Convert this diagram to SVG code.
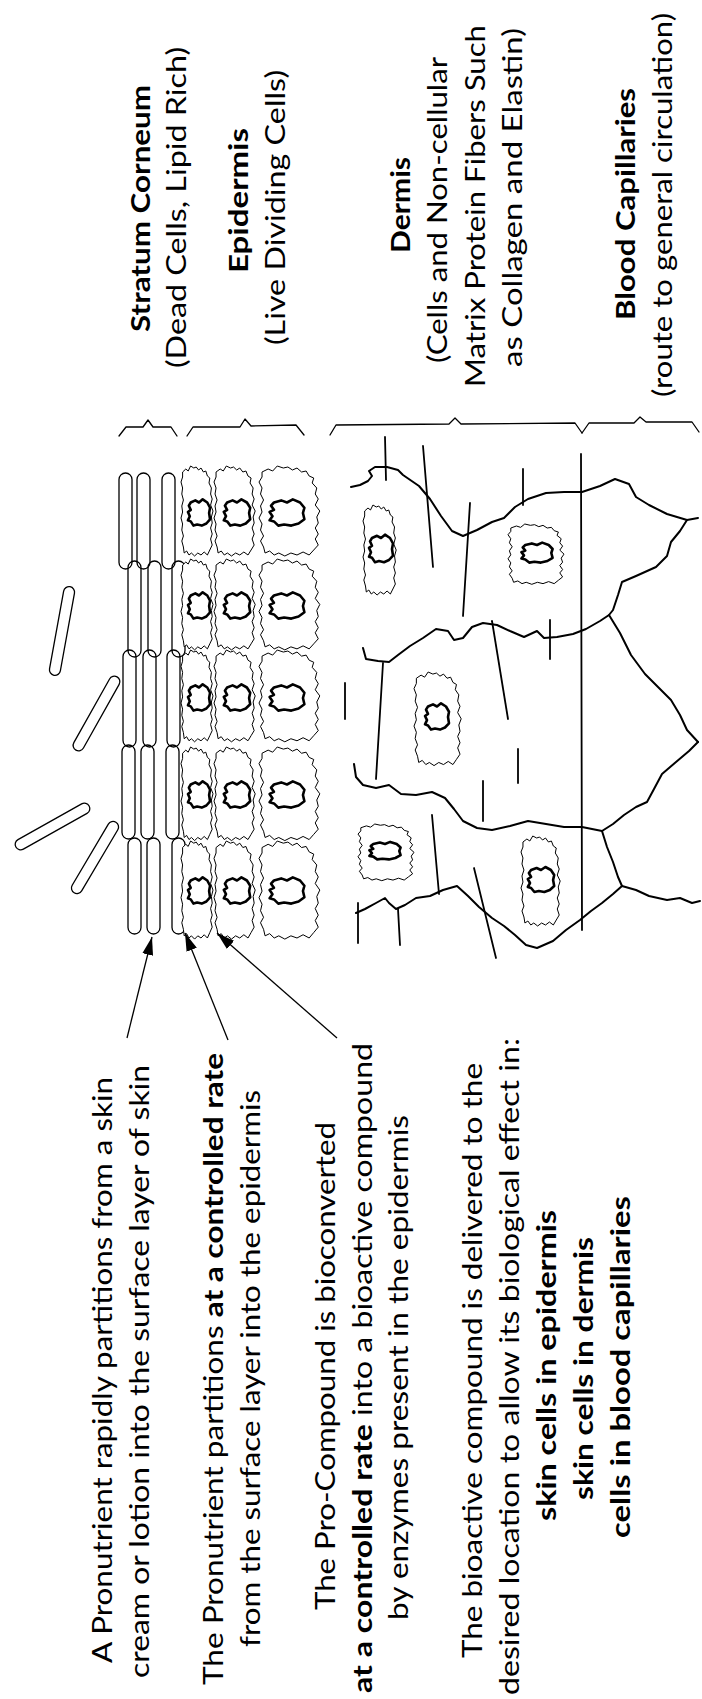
<svg xmlns="http://www.w3.org/2000/svg" xmlns:xlink="http://www.w3.org/1999/xlink" width="702" height="1699" viewBox="0 0 702 1699">
<style>
text{font-family:Lato,"Open Sans","Liberation Sans",sans-serif;font-size:27px;fill:#000}
.b{font-weight:700}
.ln{fill:none;stroke:#000;stroke-width:1.3;stroke-linejoin:round;stroke-linecap:round}
.wall{fill:none;stroke:#000;stroke-width:2;stroke-linejoin:round;stroke-linecap:round}
.fib{fill:none;stroke:#000;stroke-width:1.8;stroke-linecap:round}
.cap{fill:none;stroke:#000;stroke-width:1.3}
.rod{fill:#fff;stroke:#000;stroke-width:1.3}
.arr{fill:none;stroke:#000;stroke-width:1.3}
</style>
<defs>
<path id="cell" fill="#fff" stroke="#000" stroke-width="1" vector-effect="non-scaling-stroke" stroke-linejoin="round" d="M2,6 L6,3 L9,5 L12,0 L16,2 L19,1 L22,4 L25,2 L28,6 L31,5 L33,10 L36,12 L35,17 L38,22 L37,28 L39,33 L37,39 L40,45 L38,51 L39,57 L37,62 L39,68 L37,73 L39,79 L36,84 L33,89 L29,86 L25,89 L21,87 L17,90 L13,87 L10,89 L7,85 L4,87 L3,81 L1,75 L3,70 L1,64 L2,58 L0,52 L2,46 L1,40 L3,34 L1,28 L2,22 L0,16 L2,11 Z"/>
<path id="nuc" fill="#fff" stroke="#000" stroke-width="2.6" vector-effect="non-scaling-stroke" stroke-linejoin="round" d="M-9,-10 L-4,-12 L0,-10 L4,-13 L9,-10 L12,-5 L11,0 L12,6 L8,10 L3,12 L-2,11 L-6,12 L-9,8 L-12,7 L-10,3 L-12,-1 L-9,-3 L-11,-7 Z"/>
<marker id="ah" viewBox="0 0 18 11" refX="18" refY="5.5" markerWidth="18" markerHeight="11" markerUnits="userSpaceOnUse" orient="auto">
<path d="M0,0 L18,5.5 L0,11 Z" fill="#000"/>
</marker>
</defs>
<rect width="702" height="1699" fill="#fff"/>

<g id="layer-labels">
<g id="label-stratum-corneum">
<text class="b" transform="translate(150,332) rotate(-90)" textLength="247" lengthAdjust="spacingAndGlyphs">Stratum Corneum</text>
<text transform="translate(186,368) rotate(-90)" textLength="321" lengthAdjust="spacingAndGlyphs">(Dead Cells, Lipid Rich)</text>
</g>
<g id="label-epidermis">
<text class="b" transform="translate(248,273) rotate(-90)" textLength="145" lengthAdjust="spacingAndGlyphs">Epidermis</text>
<text transform="translate(285,345) rotate(-90)" textLength="275" lengthAdjust="spacingAndGlyphs">(Live Dividing Cells)</text>
</g>
<g id="label-dermis">
<text class="b" transform="translate(410,253) rotate(-90)" textLength="96" lengthAdjust="spacingAndGlyphs">Dermis</text>
<text transform="translate(447,363) rotate(-90)" textLength="306" lengthAdjust="spacingAndGlyphs">(Cells and Non-cellular</text>
<text transform="translate(485,387) rotate(-90)" textLength="362" lengthAdjust="spacingAndGlyphs">Matrix Protein Fibers Such</text>
<text transform="translate(522,367) rotate(-90)" textLength="339" lengthAdjust="spacingAndGlyphs">as Collagen and Elastin)</text>
</g>
<g id="label-blood-capillaries">
<text class="b" transform="translate(635,320) rotate(-90)" textLength="232" lengthAdjust="spacingAndGlyphs">Blood Capillaries</text>
<text transform="translate(672,397) rotate(-90)" textLength="384" lengthAdjust="spacingAndGlyphs">(route to general circulation)</text>
</g>
</g>

<g id="brackets">
<path class="ln" d="M119,436 L126,427 L143,427 L148,420 L153,427 L171,427 L177,436"/>
<path class="ln" d="M187,436 L193,427 L240,427 L245,419 L251,426 L296,425 L304,435"/>
<path class="ln" d="M330,435 L336,425 L449,424 L455,418 L461,424 L575,423 L582,433"/>
<path class="ln" d="M582,433 L589,423 L634,423 L640,417 L646,422 L692,422 L699,432"/>
</g>

<g id="rods">
<rect class="rod" x="-45" y="-5.5" width="90" height="11" rx="5.5" transform="translate(62,631) rotate(-79.7)"/>
<rect class="rod" x="-42" y="-5.5" width="84" height="11" rx="5.5" transform="translate(96.5,713.5) rotate(-60.7)"/>
<rect class="rod" x="-42" y="-5.5" width="84" height="11" rx="5.5" transform="translate(52.5,826.5) rotate(-29.3)"/>
<rect class="rod" x="-41" y="-5.5" width="82" height="11" rx="5.5" transform="translate(95,857.5) rotate(-59.4)"/>
</g>

<g id="stratum-corneum">
<rect class="cap" x="119" y="473" width="13" height="96" rx="6.5"/>
<rect class="cap" x="137" y="473" width="13" height="96" rx="6.5"/>
<rect class="cap" x="162" y="473" width="13" height="96" rx="6.5"/>
<rect class="cap" x="128" y="561" width="13" height="96" rx="6.5"/>
<rect class="cap" x="148" y="561" width="13" height="96" rx="6.5"/>
<rect class="cap" x="172" y="561" width="13" height="96" rx="6.5"/>
<rect class="cap" x="123" y="650" width="13" height="97" rx="6.5"/>
<rect class="cap" x="143" y="650" width="13" height="97" rx="6.5"/>
<rect class="cap" x="167" y="650" width="13" height="97" rx="6.5"/>
<rect class="cap" x="122" y="745" width="13" height="94" rx="6.5"/>
<rect class="cap" x="141" y="745" width="13" height="94" rx="6.5"/>
<rect class="cap" x="166" y="745" width="13" height="94" rx="6.5"/>
<rect class="cap" x="128" y="838" width="13" height="96" rx="6.5"/>
<rect class="cap" x="147" y="838" width="13" height="96" rx="6.5"/>
<rect class="cap" x="172" y="838" width="13" height="96" rx="6.5"/>
</g>

<g id="epidermis">
<use href="#cell" transform="translate(181,466) scale(0.8,1)"/>
<use href="#cell" transform="translate(214,466) scale(1.03,1)"/>
<use href="#cell" transform="translate(259,466) scale(1.52,1)"/>
<use href="#cell" transform="translate(181,559) scale(0.8,1.01)"/>
<use href="#cell" transform="translate(214,559) scale(1.03,1.01)"/>
<use href="#cell" transform="translate(259,559) scale(1.52,1.01)"/>
<use href="#cell" transform="translate(181,650) scale(0.8,1.02)"/>
<use href="#cell" transform="translate(214,650) scale(1.03,1.02)"/>
<use href="#cell" transform="translate(259,650) scale(1.52,1.02)"/>
<use href="#cell" transform="translate(181,747) scale(0.8,1.04)"/>
<use href="#cell" transform="translate(214,747) scale(1.03,1.04)"/>
<use href="#cell" transform="translate(259,747) scale(1.52,1.04)"/>
<use href="#cell" transform="translate(181,841) scale(0.8,1.09)"/>
<use href="#cell" transform="translate(214,841) scale(1.03,1.09)"/>
<use href="#cell" transform="translate(259,841) scale(1.52,1.09)"/>
<use href="#nuc" transform="translate(199,513) scale(0.92,1.05)"/>
<use href="#nuc" transform="translate(237,513) scale(1.1,1.05)"/>
<use href="#nuc" transform="translate(287,513) scale(1.45,1.05)"/>
<use href="#nuc" transform="translate(199,606) scale(0.92,1.05)"/>
<use href="#nuc" transform="translate(237,606) scale(1.1,1.05)"/>
<use href="#nuc" transform="translate(287,606) scale(1.45,1.05)"/>
<use href="#nuc" transform="translate(199,698) scale(0.92,1.05)"/>
<use href="#nuc" transform="translate(237,698) scale(1.1,1.05)"/>
<use href="#nuc" transform="translate(287,698) scale(1.45,1.05)"/>
<use href="#nuc" transform="translate(199,795) scale(0.92,1.05)"/>
<use href="#nuc" transform="translate(237,795) scale(1.1,1.05)"/>
<use href="#nuc" transform="translate(287,795) scale(1.45,1.05)"/>
<use href="#nuc" transform="translate(199,891) scale(0.92,1.05)"/>
<use href="#nuc" transform="translate(237,891) scale(1.1,1.05)"/>
<use href="#nuc" transform="translate(287,891) scale(1.45,1.05)"/>
</g>

<g id="dermis">
<path class="wall" d="M351,487 L360,485 L368,481 L372,476 L369,471 L375,467 L387,467 L398,470 L403,475 L419,486 L430,499 L441,516 L452,531 L463,536 L477,530 L492,522 L504,518 L515,507 L528,499 L546,493 L564,492 L582,492 L600,486 L615,479 L629,484 L636,497 L649,505 L667,514 L687,520 L698,518"/>
<path class="wall" d="M687,520 L680,531 L671,542 L667,556 L656,567 L636,576 L622,582 L618,595 L613,610 L609,615"/>
<path class="wall" d="M363,648 L366,659 L378,661 L389,662 L398,655 L410,646 L423,638 L436,629 L448,631 L454,640 L463,638 L472,627 L483,623 L497,625 L510,631 L524,637 L537,631 L544,638 L557,637 L573,634 L586,629 L600,621 L609,615 L620,633 L631,655 L645,674 L658,687 L671,700 L680,715 L687,730 L698,742"/>
<path class="wall" d="M698,742 L689,751 L676,762 L662,774 L654,789 L647,802 L636,807 L624,815 L613,824 L602,831"/>
<path class="wall" d="M354,764 L356,777 L363,785 L376,788 L389,785 L401,794 L416,795 L432,792 L445,798 L454,809 L463,821 L477,828 L492,830 L510,826 L528,821 L546,824 L564,827 L582,827 L602,831 L607,847 L613,862 L618,877 L622,886 L636,890 L649,896 L667,900 L680,898 L692,903 L700,901"/>
<path class="wall" d="M622,886 L613,894 L602,903 L591,911 L580,920 L566,930 L553,941 L537,948 L526,945 L515,935 L504,926 L492,918 L479,907 L468,896 L457,886 L443,890 L430,896 L416,898 L405,905 L396,909 L389,903 L385,898 L376,903 L365,909 L356,913"/>
<line class="fib" x1="385" y1="437" x2="386" y2="480"/>
<line class="fib" x1="423" y1="446" x2="433" y2="567"/>
<line class="fib" x1="523" y1="469" x2="523" y2="505"/>
<line class="fib" x1="470" y1="503" x2="463" y2="616"/>
<line class="fib" x1="581" y1="454" x2="582" y2="930"/>
<line class="fib" x1="550" y1="620" x2="550" y2="659"/>
<line class="fib" x1="492" y1="621" x2="508" y2="719"/>
<line class="fib" x1="345" y1="683" x2="345" y2="719"/>
<line class="fib" x1="383" y1="663" x2="376" y2="779"/>
<line class="fib" x1="518" y1="749" x2="518" y2="783"/>
<line class="fib" x1="483" y1="781" x2="483" y2="821"/>
<line class="fib" x1="432" y1="815" x2="439" y2="894"/>
<line class="fib" x1="474" y1="868" x2="496" y2="958"/>
<line class="fib" x1="358" y1="903" x2="358" y2="943"/>
<line class="fib" x1="398" y1="909" x2="400" y2="945"/>
<use href="#cell" transform="translate(363,505) scale(0.83,1)"/>
<use href="#cell" transform="translate(508,524) scale(1.4,0.67)"/>
<use href="#cell" transform="translate(414,672) scale(1.18,1.04)"/>
<use href="#cell" transform="translate(358,824) scale(1.4,0.63)"/>
<use href="#cell" transform="translate(521,836) scale(0.98,1)"/>
<use href="#nuc" transform="translate(381,549) scale(1,1.1)"/>
<use href="#nuc" transform="translate(537,553) scale(1.3,0.8)"/>
<use href="#nuc" transform="translate(437,717) scale(1,1.05)"/>
<use href="#nuc" transform="translate(385,851) scale(1.3,0.7)"/>
<use href="#nuc" transform="translate(541,880) scale(1.1,1)"/>
</g>

<g id="connectors">
<line class="arr" x1="127" y1="1038" x2="152" y2="937" marker-end="url(#ah)"/>
<line class="arr" x1="228" y1="1040" x2="185" y2="933" marker-end="url(#ah)"/>
<line class="arr" x1="337" y1="1038" x2="217" y2="933" marker-end="url(#ah)"/>
</g>

<g id="note-1">
<text transform="translate(112,1663) rotate(-90)" textLength="586" lengthAdjust="spacingAndGlyphs">A Pronutrient rapidly partitions from a skin</text>
<text transform="translate(149,1678) rotate(-90)" textLength="613" lengthAdjust="spacingAndGlyphs">cream or lotion into the surface layer of skin</text>
</g>
<g id="note-2">
<text transform="translate(223,1685) rotate(-90)" textLength="632" lengthAdjust="spacingAndGlyphs">The Pronutrient partitions <tspan class="b">at a controlled rate</tspan></text>
<text transform="translate(260,1647) rotate(-90)" textLength="557" lengthAdjust="spacingAndGlyphs">from the surface layer into the epidermis</text>
</g>
<g id="note-3">
<text transform="translate(335,1610) rotate(-90)" textLength="488" lengthAdjust="spacingAndGlyphs">The Pro-Compound is bioconverted</text>
<text transform="translate(372,1693) rotate(-90)" textLength="650" lengthAdjust="spacingAndGlyphs"><tspan class="b">at a controlled rate</tspan> into a bioactive compound</text>
<text transform="translate(408,1620) rotate(-90)" textLength="505" lengthAdjust="spacingAndGlyphs">by enzymes present in the epidermis</text>
</g>
<g id="note-4">
<text transform="translate(482,1658) rotate(-90)" textLength="595" lengthAdjust="spacingAndGlyphs">The bioactive compound is delivered to the</text>
<text transform="translate(519,1695) rotate(-90)" textLength="657" lengthAdjust="spacingAndGlyphs">desired location to allow its biological effect in:</text>
<text class="b" transform="translate(556,1521) rotate(-90)" textLength="311" lengthAdjust="spacingAndGlyphs">skin cells in epidermis</text>
<text class="b" transform="translate(593,1500) rotate(-90)" textLength="263" lengthAdjust="spacingAndGlyphs">skin cells in dermis</text>
<text class="b" transform="translate(630,1538) rotate(-90)" textLength="342" lengthAdjust="spacingAndGlyphs">cells in blood capillaries</text>
</g>
</svg>
